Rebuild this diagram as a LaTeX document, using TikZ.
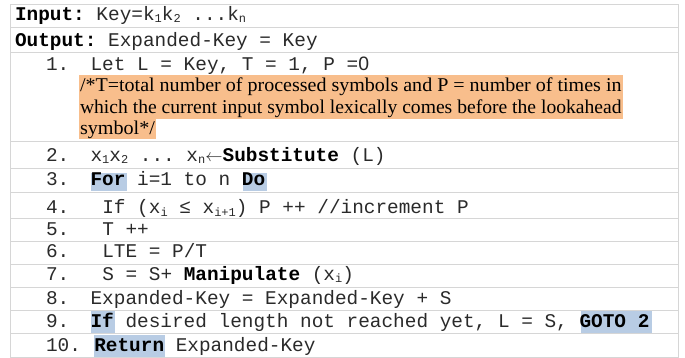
\documentclass[tikz,border=0pt]{standalone}
\usepackage{fontspec}
\usepackage{graphicx}
\setmonofont{Liberation Mono}
\newfontfamily\cmtfont{Liberation Serif}
\newfontfamily\zerofont{Liberation Sans}
\definecolor{gridgray}{HTML}{D6D6D6}
\definecolor{peach}{HTML}{F8BE8C}
\definecolor{hlblue}{HTML}{B8CCE4}
\definecolor{codegray}{HTML}{2A2A2A}
\newcommand\subs[1]{\raisebox{-2pt}{\fontsize{12}{12}\selectfont #1}}
\newcommand\larr{{\fontsize{18}{18}\selectfont$\leftarrow$}}
\newcommand\kw[1]{\textcolor{black}{\textbf{#1}}}
\begin{document}
\begin{tikzpicture}[x=1pt,y=-1pt,
  every node/.style={inner sep=0pt,outer sep=0pt,anchor=base west},
  code/.style={font=\ttfamily\fontsize{19.4}{23}\selectfont,text=codegray},
  cmt/.style={font=\cmtfont\fontsize{19.5}{21}\selectfont,text=black},
  rule/.style={draw=gridgray,line width=1pt},
  hlb/.style={fill=hlblue},
  hlo/.style={fill=peach}]
\useasboundingbox (0,0) rectangle (685,358);
% highlights
\fill[hlo] (79.3,75) rectangle (622.7,119);
\fill[hlo] (79.3,119) rectangle (156,139.5);
\fill[hlb] (90.7,173.3) rectangle (126.7,190.7);
\fill[hlb] (242.7,173.3) rectangle (266.7,190.7);
\fill[hlb] (90.7,311) rectangle (115,332.7);
\fill[hlb] (580.7,311) rectangle (651.7,332.7);
\fill[hlb] (94.3,335) rectangle (165,357.3);
% table rules
\foreach \yy in {4.3,27.3,53,141.7,168.3,192.7,218.3,241.7,264,287.3,310.7,333.3,357.3}
  \draw[rule] (10,\yy) -- (678.5,\yy);
\draw[rule] (10,4.3) -- (10,357.3);
\draw[rule] (678.5,4.3) -- (678.5,357.3);
% header rows
\node[code] (inp) at (15,20.7) {\kw{Input:} Key=k\subs{1}k\subs{2} ...k\subs{n}};
\node[code] (outp) at (15,46.7) {\kw{Output:} Expanded-Key = Key};
% numbers
\node[code] (n1) at (46,70.7) {1.};
\node[code] (n2) at (46,161.7) {2.};
\node[code] (n3) at (46,185.7) {3.};
\node[code] (n4) at (46,214) {4.};
\node[code] (n5) at (46,235.5) {5.};
\node[code] (n6) at (46,257.5) {6.};
\node[code] (n7) at (46,280.7) {7.};
\node[code] (n8) at (46,304) {8.};
\node[code] (n9) at (46,327.3) {9.};
\node[code] (n10) at (46,351.7) {10.};
% statements
\node[code] (s1) at (90.6,70.7) {Let L = Key, T = 1, P =\zerofont 0};
\node[cmt] (c1) at (80,91.7) {\resizebox{541.5pt}{\height}{/*T=total number of processed symbols and P = number of times in}};
\node[cmt] (c2) at (80,113.3) {\resizebox{541.5pt}{\height}{which the current input symbol lexically comes before the lookahead}};
\node[cmt] (c3) at (80,135) {\resizebox{75pt}{\height}{symbol*/}};
\node[code] (s2) at (90.6,161.7) {x\subs{1}x\subs{2} ... x\subs{n}\larr\kw{Substitute} (L)};
\node[code] (s3) at (90.6,185.7) {\kw{For} i=1 to n \kw{Do}};
\node[code] (s4) at (102.3,214) {If (x\subs{i} ≤ x\subs{i+1}) P ++ //increment P};
\node[code] (s5) at (102.3,235.5) {T ++};
\node[code] (s6) at (102.3,257.5) {LTE = P/T};
\node[code] (s7) at (102.3,280.7) {S = S+ \kw{Manipulate} (x\subs{i})};
\node[code] (s8) at (90.6,304) {Expanded-Key = Expanded-Key + S};
\node[code] (s9) at (90.6,327.3) {\kw{If} desired length not reached yet, L = S, \kw{GOTO 2}};
\node[code] (s10) at (94.3,351.7) {\kw{Return} Expanded-Key};
\end{tikzpicture}
\end{document}
